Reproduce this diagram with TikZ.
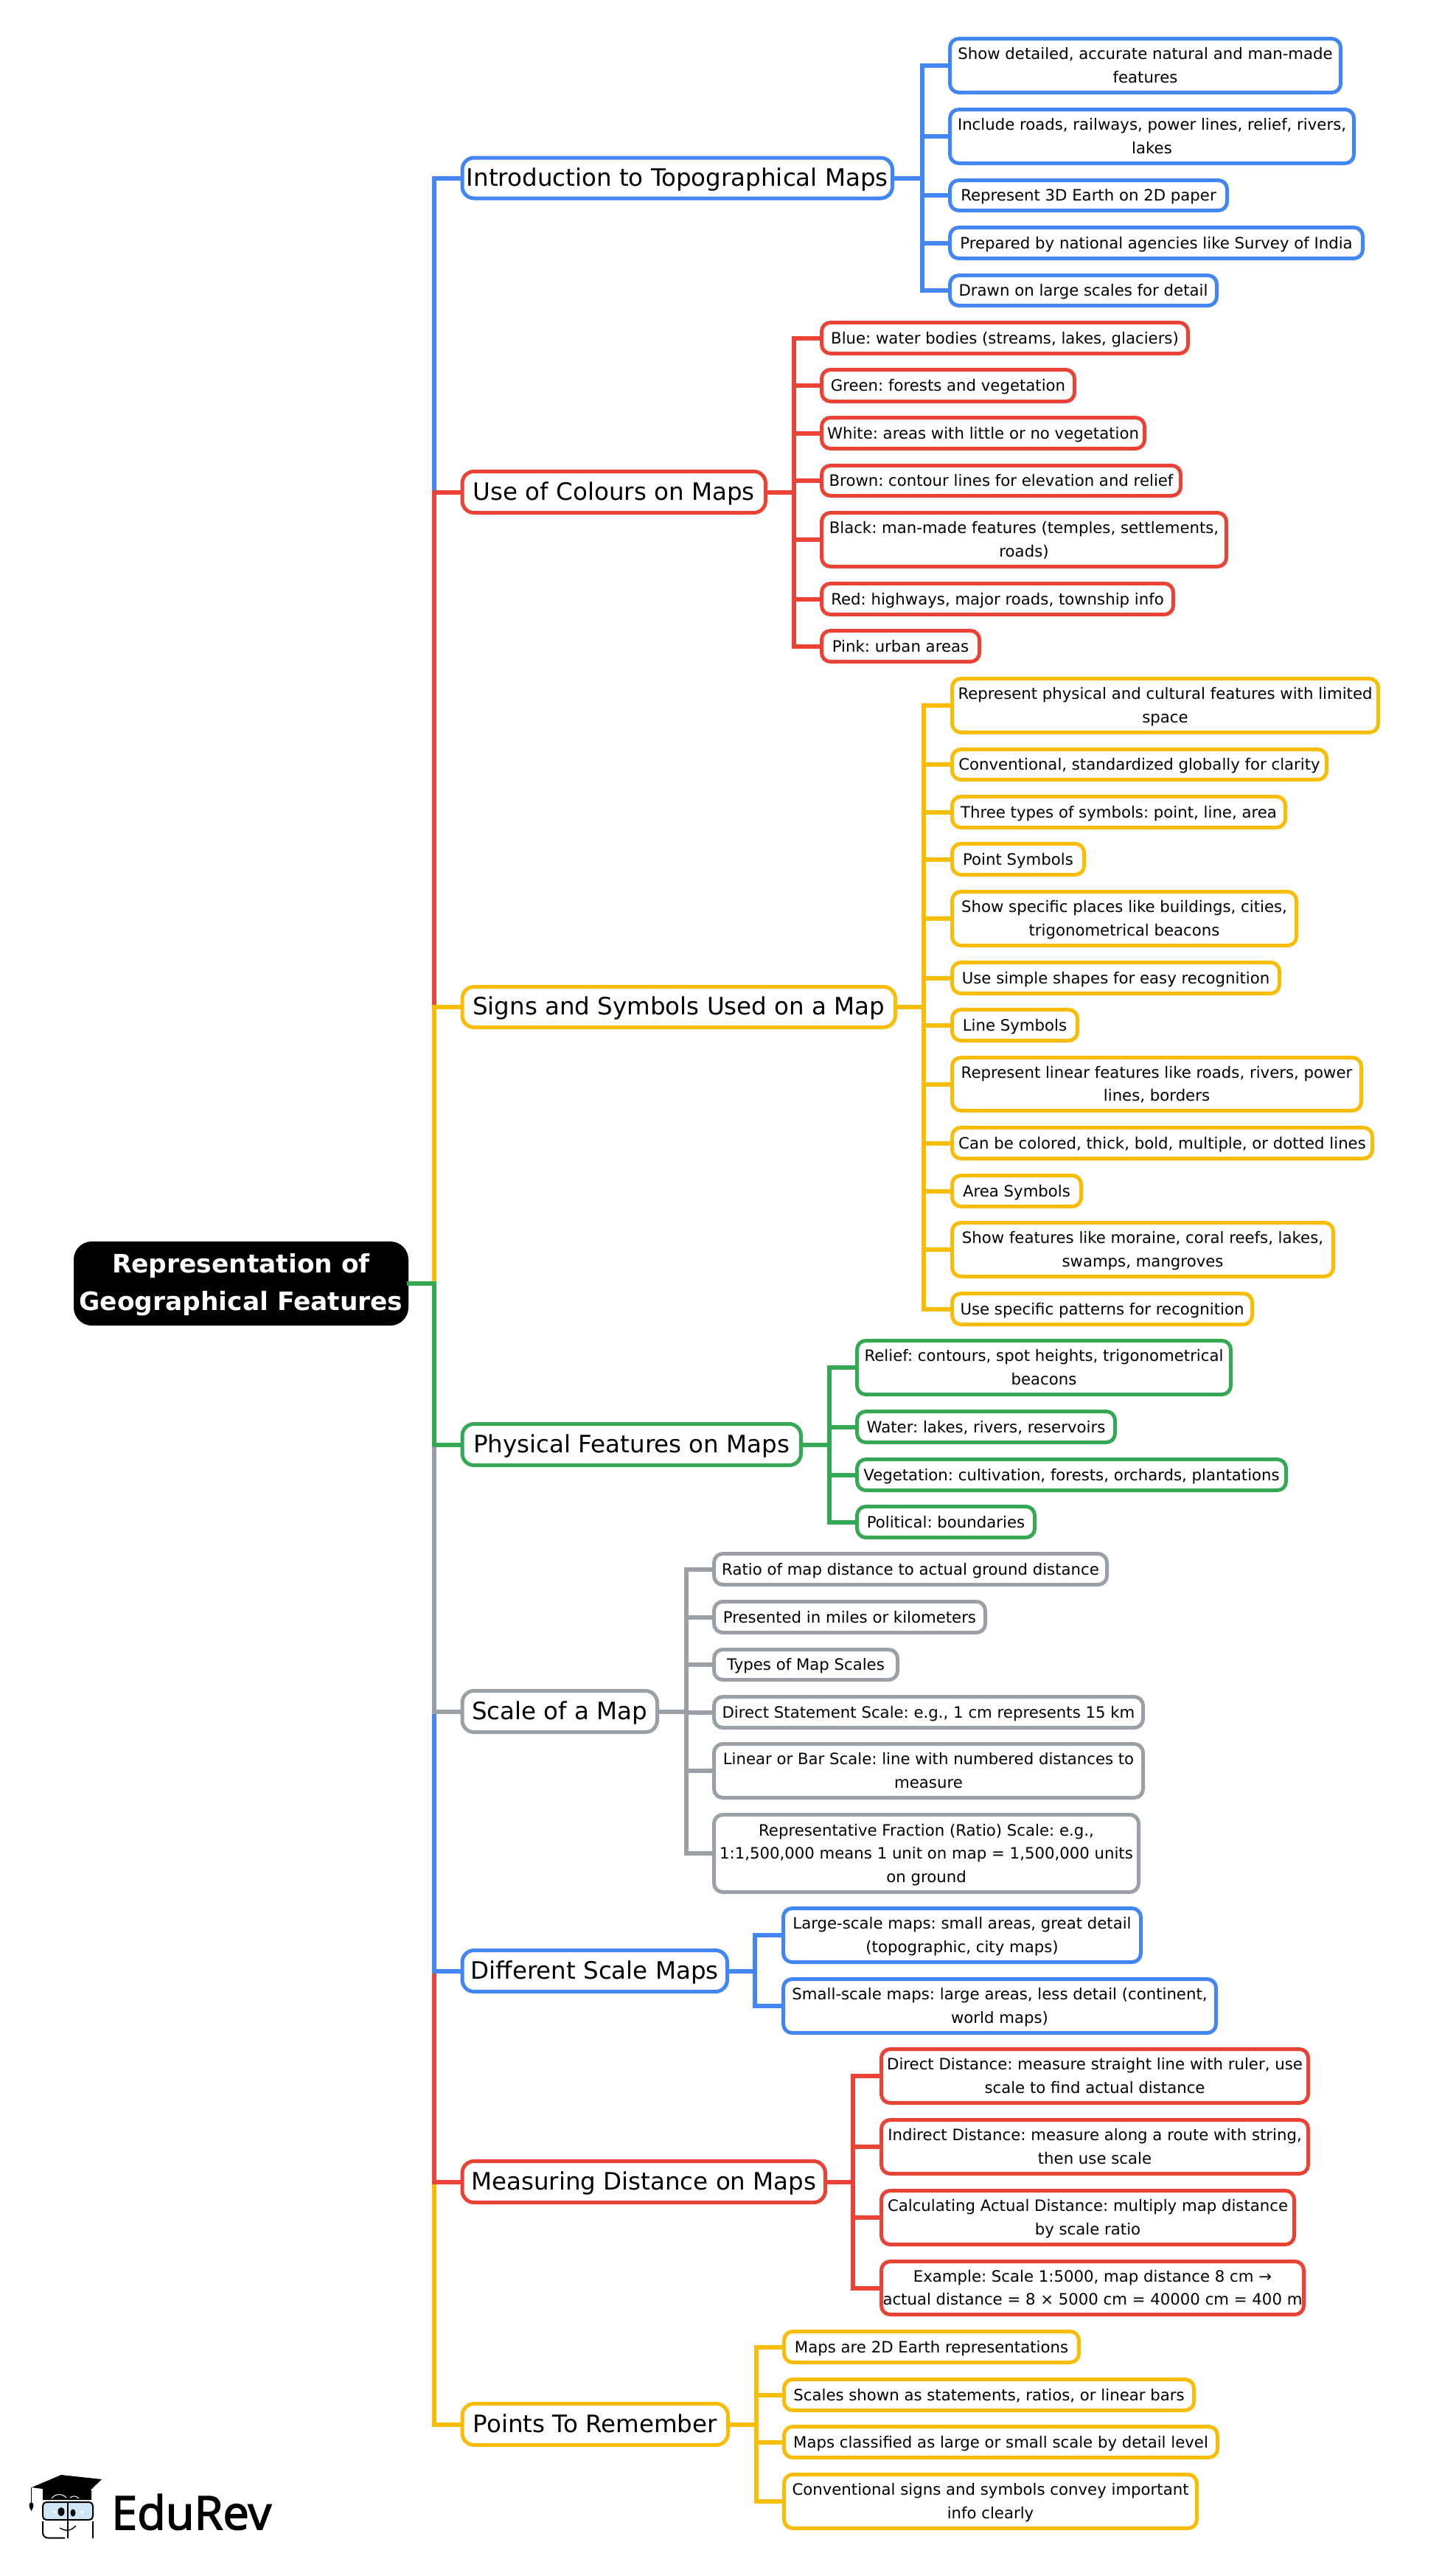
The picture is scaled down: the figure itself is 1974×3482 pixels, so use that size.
\documentclass[tikz,border=0pt]{standalone}
\usepackage{fontspec}
\setmainfont{DejaVu Sans}
\newfontfamily\logofont[FakeBold=2.5]{Open Sans}
\frenchspacing
\definecolor{gBlue}{HTML}{4285F4}
\definecolor{gRed}{HTML}{EA4335}
\definecolor{gAmber}{HTML}{FBBC04}
\definecolor{gGreen}{HTML}{34A853}
\definecolor{gGrey}{HTML}{9AA0A6}
\definecolor{lens}{HTML}{CFE6F7}
\tikzset{
  mapRoot/.style={draw=black,fill=black,text=white,line width=5pt,rounded corners=22pt,align=center,inner sep=0pt,outer sep=0pt,font=\frenchspacing\def\lnH{30pt}\def\lnD{7pt}\fontsize{34.4}{51}\selectfont\bfseries},
  mapBranch/.style={draw=#1,fill=white,text=black,line width=5pt,rounded corners=16pt,align=center,inner sep=0pt,outer sep=0pt,font=\frenchspacing\def\lnH{28pt}\def\lnD{6.4pt}\fontsize{32.5}{40}\selectfont},
  mapLeaf/.style={draw=#1,fill=white,text=black,line width=5pt,rounded corners=12pt,align=center,inner sep=0pt,outer sep=0pt,font=\frenchspacing\def\lnH{20pt}\def\lnD{4.8pt}\fontsize{21.25}{31.5}\selectfont},
  conn/.style={draw=#1,line width=6pt,line cap=butt,line join=miter},
}
\newcommand{\bx}[7]{\node[#6,minimum width={#3-#2-5},minimum height={#5-#4-5}] (#1) at ({(#2+#3)/2},{(#4+#5)/2}) {\rule{0pt}{\lnH}#7\rule[-\lnD]{0pt}{\lnD}};}
\begin{document}
\begin{tikzpicture}[x=1pt,y=-1pt]
\useasboundingbox (0,0) rectangle (1974,3482);
\fill[white] (0,0) rectangle (1974,3482);
% ---- nodes
\bx{root}{100}{554}{1684}{1798}{mapRoot}{Representation of\\Geographical Features}
\bx{intro}{624.5}{1213}{211.5}{271.5}{mapBranch=gBlue}{Introduction to Topographical Maps}
\bx{use}{624.5}{1041}{637}{698}{mapBranch=gRed}{Use of Colours on Maps}
\bx{signs}{624.5}{1217}{1336}{1396}{mapBranch=gAmber}{Signs and Symbols Used on a Map}
\bx{phys}{624.5}{1089}{1929}{1990}{mapBranch=gGreen}{Physical Features on Maps}
\bx{scale}{624.5}{894}{2291}{2352}{mapBranch=gGrey}{Scale of a Map}
\bx{diff}{624.5}{989}{2643}{2704}{mapBranch=gBlue}{Different Scale Maps}
\bx{meas}{624.5}{1122}{2929}{2990}{mapBranch=gRed}{Measuring Distance on Maps}
\bx{pts}{624.5}{990}{3258}{3319}{mapBranch=gAmber}{Points To Remember}
% intro
\bx{i1}{1286}{1821}{50}{128}{mapLeaf=gBlue}{Show detailed, accurate natural and man-made\\features}
\bx{i2}{1286}{1839}{146}{224}{mapLeaf=gBlue}{Include roads, railways, power lines, relief, rivers,\\lakes}
\bx{i3}{1286}{1667}{242}{288}{mapLeaf=gBlue}{Represent 3D Earth on 2D paper}
\bx{i4}{1286}{1851}{306}{353}{mapLeaf=gBlue}{Prepared by national agencies like Survey of India}
\bx{i5}{1286}{1653}{371}{417}{mapLeaf=gBlue}{Drawn on large scales for detail}
% colours
\bx{u1}{1112}{1614}{435}{482}{mapLeaf=gRed}{Blue: water bodies (streams, lakes, glaciers)}
\bx{u2}{1112}{1460}{499}{547}{mapLeaf=gRed}{Green: forests and vegetation}
\bx{u3}{1112}{1555}{564}{611}{mapLeaf=gRed}{White: areas with little or no vegetation}
\bx{u4}{1112}{1604}{629}{675}{mapLeaf=gRed}{Brown: contour lines for elevation and relief}
\bx{u5}{1112}{1666}{693}{771}{mapLeaf=gRed}{Black: man-made features (temples, settlements,\\roads)}
\bx{u6}{1112}{1594}{789}{836}{mapLeaf=gRed}{Red: highways, major roads, township info}
\bx{u7}{1112}{1331}{853}{900}{mapLeaf=gRed}{Pink: urban areas}
% signs
\bx{s1}{1289}{1872}{918}{996}{mapLeaf=gAmber}{Represent physical and cultural features with limited\\space}
\bx{s2}{1289}{1802}{1014}{1060}{mapLeaf=gAmber}{Conventional, standardized globally for clarity}
\bx{s3}{1289}{1746}{1078}{1125}{mapLeaf=gAmber}{Three types of symbols: point, line, area}
\bx{s4}{1289}{1473}{1142}{1189}{mapLeaf=gAmber}{Point Symbols}
\bx{s5}{1289}{1761}{1207}{1285}{mapLeaf=gAmber}{Show specific places like buildings, cities,\\trigonometrical beacons}
\bx{s6}{1289}{1738}{1303}{1350}{mapLeaf=gAmber}{Use simple shapes for easy recognition}
\bx{s7}{1289}{1464}{1367}{1414}{mapLeaf=gAmber}{Line Symbols}
\bx{s8}{1289}{1849}{1432}{1509}{mapLeaf=gAmber}{Represent linear features like roads, rivers, power\\lines, borders}
\bx{s9}{1289}{1864}{1527}{1574}{mapLeaf=gAmber}{Can be colored, thick, bold, multiple, or dotted lines}
\bx{s10}{1289}{1469}{1592}{1639}{mapLeaf=gAmber}{Area Symbols}
\bx{s11}{1289}{1811}{1656}{1734}{mapLeaf=gAmber}{Show features like moraine, coral reefs, lakes,\\swamps, mangroves}
\bx{s12}{1289}{1701}{1752}{1799}{mapLeaf=gAmber}{Use specific patterns for recognition}
% physical
\bx{p1}{1160}{1672}{1816}{1894}{mapLeaf=gGreen}{Relief: contours, spot heights, trigonometrical\\beacons}
\bx{p2}{1160}{1515}{1912}{1959}{mapLeaf=gGreen}{Water: lakes, rivers, reservoirs}
\bx{p3}{1160}{1747}{1977}{2024}{mapLeaf=gGreen}{Vegetation: cultivation, forests, orchards, plantations}
\bx{p4}{1160}{1406}{2041}{2088}{mapLeaf=gGreen}{Political: boundaries}
% scale
\bx{c1}{966}{1504}{2105}{2152}{mapLeaf=gGrey}{Ratio of map distance to actual ground distance}
\bx{c2}{966}{1339}{2170}{2217}{mapLeaf=gGrey}{Presented in miles or kilometers}
\bx{c3}{966}{1220}{2235}{2281}{mapLeaf=gGrey}{Types of Map Scales}
\bx{c4}{966}{1553}{2299}{2346}{mapLeaf=gGrey}{Direct Statement Scale: e.g., 1 cm represents 15 km}
\bx{c5}{966}{1553}{2363}{2441}{mapLeaf=gGrey}{Linear or Bar Scale: line with numbered distances to\\measure}
\bx{c6}{966}{1547}{2459}{2569}{mapLeaf=gGrey}{Representative Fraction (Ratio) Scale: e.g.,\\1:1,500,000 means 1 unit on map = 1,500,000 units\\on ground}
% different
\bx{d1}{1060}{1550}{2586}{2664}{mapLeaf=gBlue}{Large-scale maps: small areas, great detail\\(topographic, city maps)}
\bx{d2}{1060}{1652}{2682}{2760}{mapLeaf=gBlue}{Small-scale maps: large areas, less detail (continent,\\world maps)}
% measuring
\bx{m1}{1193}{1777}{2777}{2855}{mapLeaf=gRed}{Direct Distance: measure straight line with ruler, use\\scale to find actual distance}
\bx{m2}{1193}{1777}{2873}{2951}{mapLeaf=gRed}{Indirect Distance: measure along a route with string,\\then use scale}
\bx{m3}{1193}{1758}{2969}{3047}{mapLeaf=gRed}{Calculating Actual Distance: multiply map distance\\by scale ratio}
\bx{m4}{1193}{1771}{3065}{3142}{mapLeaf=gRed}{Example: Scale 1:5000, map distance 8 cm →\\actual distance = 8 × 5000 cm = 40000 cm = 400 m}
% points
\bx{r1}{1061}{1466}{3160}{3207}{mapLeaf=gAmber}{Maps are 2D Earth representations}
\bx{r2}{1061}{1622}{3225}{3272}{mapLeaf=gAmber}{Scales shown as statements, ratios, or linear bars}
\bx{r3}{1061}{1654}{3289}{3336}{mapLeaf=gAmber}{Maps classified as large or small scale by detail level}
\bx{r4}{1061}{1626}{3354}{3432}{mapLeaf=gAmber}{Conventional signs and symbols convey important\\info clearly}
% ---- elbows
\coordinate (trunk) at (589,1741);
\coordinate (ei) at (1251,241.5);
\coordinate (eu) at (1077,667.5);
\coordinate (es) at (1252.5,1366);
\coordinate (ep) at (1125,1959.5);
\coordinate (ec) at (931,2321.5);
\coordinate (ed) at (1024,2673.5);
\coordinate (em) at (1157,2959.5);
\coordinate (er) at (1026,3288.5);
% ---- children
\foreach \n in {i1,i2,i3,i4,i5} \draw[conn=gBlue] (intro.east) -- (ei) |- (\n.west);
\foreach \n in {u1,u2,u3,u4,u5,u6,u7} \draw[conn=gRed] (use.east) -- (eu) |- (\n.west);
\foreach \n in {s1,s2,s3,s4,s5,s6,s7,s8,s9,s10,s11,s12} \draw[conn=gAmber] (signs.east) -- (es) |- (\n.west);
\foreach \n in {p1,p2,p3,p4} \draw[conn=gGreen] (phys.east) -- (ep) |- (\n.west);
\foreach \n in {c1,c2,c3,c4,c5,c6} \draw[conn=gGrey] (scale.east) -- (ec) |- (\n.west);
\foreach \n in {d1,d2} \draw[conn=gBlue] (diff.east) -- (ed) |- (\n.west);
\foreach \n in {m1,m2,m3,m4} \draw[conn=gRed] (meas.east) -- (em) |- (\n.west);
\foreach \n in {r1,r2,r3,r4} \draw[conn=gAmber] (pts.east) -- (er) |- (\n.west);
% ---- trunk, painted in the order that leaves the reference's colours visible
\draw[conn=gBlue] (root.east) -- (trunk) |- (intro.west);
\draw[conn=gRed] (root.east) -- (trunk) |- (use.west);
\draw[conn=gAmber] (root.east) -- (trunk) |- (signs.west);
\draw[conn=gAmber] (root.east) -- (trunk) |- (pts.west);
\draw[conn=gRed] (root.east) -- (trunk) |- (meas.west);
\draw[conn=gBlue] (root.east) -- (trunk) |- (diff.west);
\draw[conn=gGrey] (root.east) -- (trunk) |- (scale.west);
\draw[conn=gGreen] (root.east) -- (trunk) |- (phys.west);
% ---- logo
\fill[black] (58,3376) -- (58,3391) -- (124,3391) -- (124,3378) -- cycle;
\fill[black] (43,3374) -- (83,3357) -- (138,3363) -- (113,3387) -- (58,3376) -- cycle;
\draw[black,line width=1.2pt] (42.5,3374) -- (42.5,3396);
\fill[black] (42.5,3394) .. controls (38,3396) and (39,3400) .. (42.5,3406) .. controls (46,3400) and (47,3396) .. (42.5,3394) -- cycle;
\draw[white,line width=1pt] (70,3389) .. controls (75,3382) and (85,3382) .. (90,3388);
\draw[white,line width=1pt] (95,3388) .. controls (99,3385) and (103,3385) .. (107,3389);
\draw[black,line width=2pt,fill=lens,rounded corners=5pt] (58,3394) rectangle (126,3418);
\draw[black,line width=2pt,rounded corners=7pt] (88,3442.5) -- (58,3442.5) -- (58,3420);
\draw[black,line width=2pt,rounded corners=7pt] (126,3420) -- (126,3442.5);
\draw[black,line width=2pt] (92,3394) -- (92,3443);
\fill[black] (83,3407) ellipse (4.5pt and 6pt);
\fill[black] (99,3408.5) ellipse (3.5pt and 5pt);
\fill[white] (72,3406) rectangle (76,3409);
\fill[white] (109,3406) rectangle (113,3409);
\draw[black,line width=1.4pt] (81,3429) .. controls (90,3434) and (96,3433) .. (103,3426);
\node[anchor=base west,inner sep=0pt,font=\logofont\fontsize{63}{64}\selectfont] (brand) at (151,3431) {EduRev};
\end{tikzpicture}
\end{document}
